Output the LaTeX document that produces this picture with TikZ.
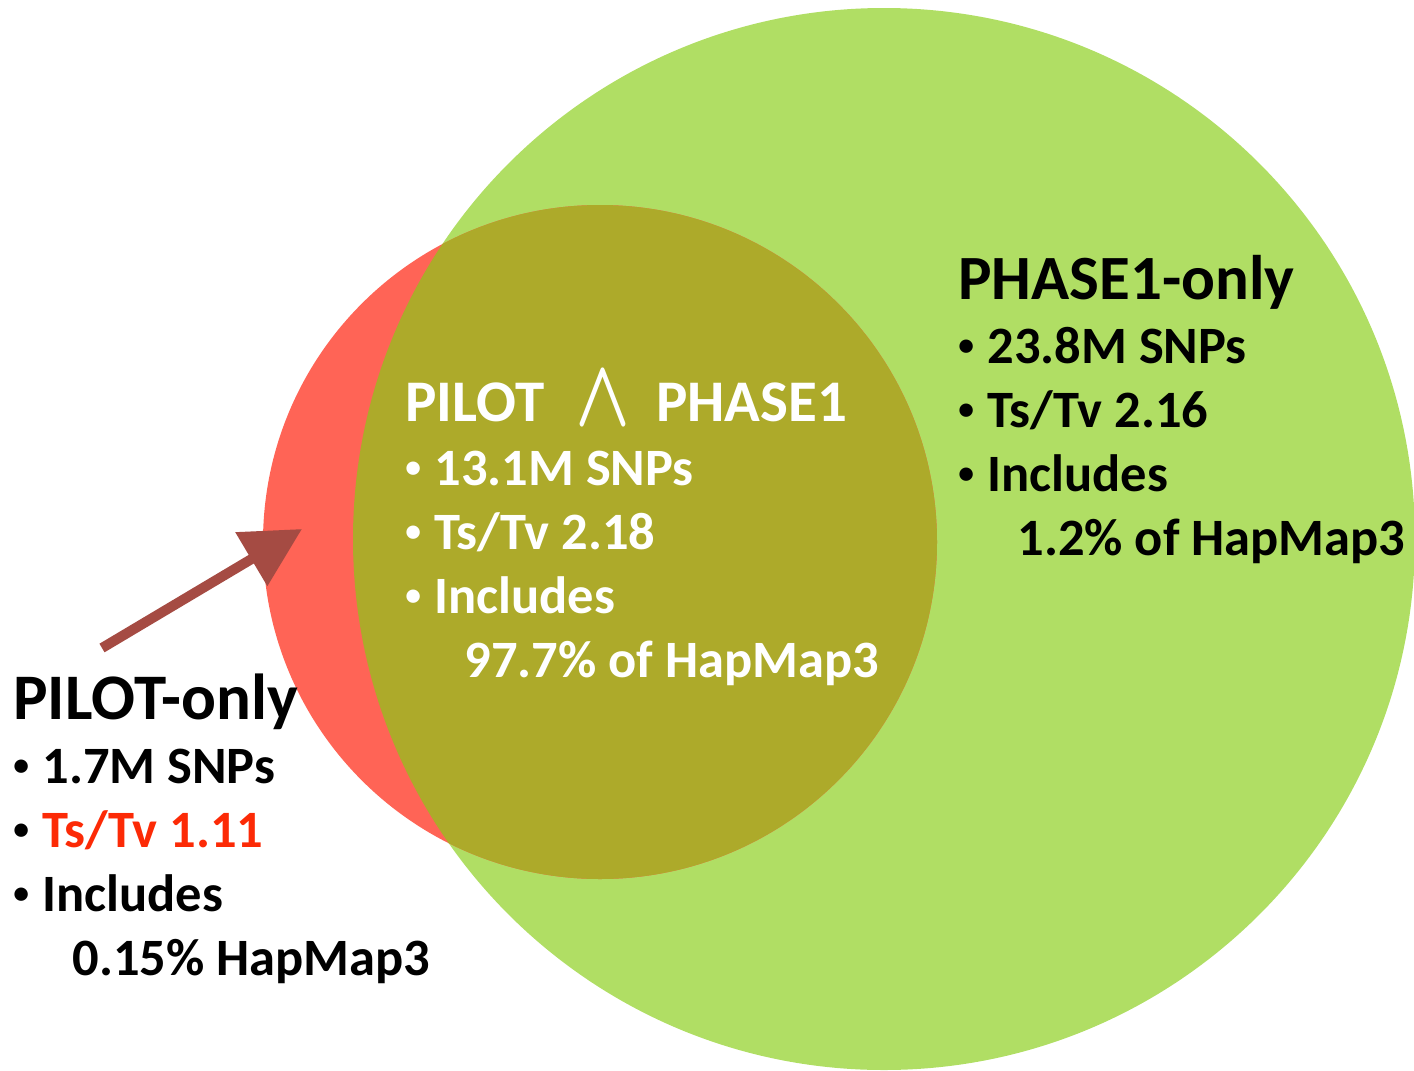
\documentclass[tikz,border=0pt]{standalone}
\usepackage{fontspec}
\setmainfont{Carlito}
\usepackage{graphicx}
\usetikzlibrary{arrows.meta}

\definecolor{pilotred}{RGB}{255,100,86}
\definecolor{phasegreen}{RGB}{176,222,100}
\definecolor{botholive}{RGB}{173,170,42}
\definecolor{arrowbrown}{RGB}{165,75,67}
\definecolor{tsred}{RGB}{252,42,6}

% bullet with a fixed hang, and the indent of a wrapped line
\newcommand\bul{\makebox[14.5pt][l]{\raisebox{3.6pt}{\scalebox{0.6}{\textbullet}}}}
\newcommand\cont{\hspace*{29.5pt}}
\newcommand\settitle[2]{{\fontsize{#1}{32}\selectfont #2}}
\newcommand\andsym{\hspace{15.5pt}\raisebox{-2pt}{\resizebox{27.5pt}{26.5pt}{\boldmath$\wedge$}}\hspace{13pt}}

\begin{document}
\begin{tikzpicture}[x=0.5pt,y=-0.5pt,
  setinfo/.style={anchor=base west,align=left,inner sep=0pt,
    font=\bfseries\fontsize{26.25}{32}\selectfont},
  pointer/.style={draw=arrowbrown,line width=5pt,
    -{Triangle[length=29.5pt,width=30pt]}}]
\useasboundingbox (0,0) rectangle (1414,1071);

% the two call sets and their overlap
\coordinate (phase) at (884,539);
\coordinate (pilot) at (600,542);
\fill[phasegreen] (phase) circle[radius=531];
\fill[pilotred] (pilot) circle[radius=337];
\begin{scope}
  \clip (pilot) circle[radius=337];
  \fill[botholive] (phase) circle[radius=531];
\end{scope}

% text blocks, placed by the baseline of their last line
\node[setinfo] (phaseonly) at (958,555)
  {\settitle{31.5}{PHASE1-only}\\
   \bul 23.8M SNPs\\
   \bul Ts/Tv 2.16\\
   \bul Includes\\
   \cont 1.2\% of HapMap3};

\node[setinfo,text=white] (both) at (405,677)
  {\settitle{29.5}{PILOT\andsym PHASE1}\\
   \bul 13.1M SNPs\\
   \bul Ts/Tv 2.18\\
   \bul Includes\\
   \cont 97.7\% of HapMap3};

\node[setinfo] (pilotonly) at (13,975)
  {\settitle{32.5}{PILOT-only}\\
   \bul 1.7M SNPs\\
   \bul\textcolor{tsred}{Ts/Tv 1.11}\\
   \bul Includes\\
   \cont 0.15\% HapMap3};

\coordinate (tail) at (102,648);
\coordinate (tip) at (302,529);
\draw[pointer] (tail) -- (tip);
\end{tikzpicture}
\end{document}
